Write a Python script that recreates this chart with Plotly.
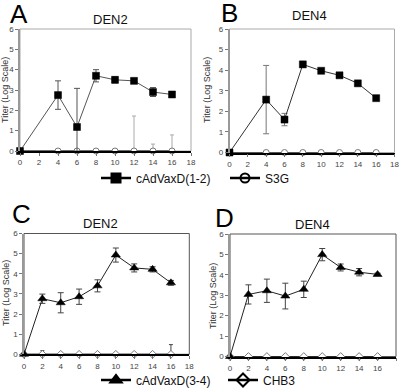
import plotly.graph_objects as go

days = [0, 4, 6, 8, 10, 12, 14, 16]
days_cd = [0, 2, 4, 6, 8, 10, 12, 14, 16]

# Panel A: DEN2, cAdVaxD(1-2) and S3G
a_vax = [0, 2.75, 1.18, 3.70, 3.50, 3.45, 2.90, 2.78]
a_vax_err = [0, 0.70, 1.90, 0.30, 0.15, 0.09, 0.22, 0.12]
a_vax_errminus = [0, 0.70, 1.18, 0.30, 0.15, 0.09, 0.22, 0.12]
a_ctl = [0, 0, 0, 0, 0, 0, 0, 0]
a_ctl_err = [0, 0, 0, 0, 0, 1.72, 0.34, 0.79]

# Panel B: DEN4, cAdVaxD(1-2) and S3G
b_vax = [0, 2.57, 1.60, 4.28, 3.97, 3.75, 3.36, 2.64]
b_vax_err = [0, 1.66, 0.30, 0.15, 0.07, 0.06, 0.09, 0.05]
b_ctl = [0, 0, 0, 0, 0, 0, 0, 0]

# Panel C: DEN2, cAdVaxD(3-4) and CHB3
c_vax = [0, 2.76, 2.56, 2.86, 3.40, 4.93, 4.29, 4.22, 3.55]
c_vax_err = [0, 0.23, 0.50, 0.38, 0.30, 0.35, 0.20, 0.13, 0.12]
c_ctl = [0, 0, 0, 0, 0, 0, 0, 0, 0]
c_ctl_err = [0, 0.18, 0, 0, 0, 0, 0, 0, 0.48]

# Panel D: DEN4, cAdVaxD(3-4) and CHB3
d_vax = [0, 3.04, 3.22, 2.96, 3.29, 4.99, 4.36, 4.13, 4.02]
d_vax_err = [0, 0.47, 0.57, 0.63, 0.40, 0.30, 0.17, 0.18, 0.06]
d_ctl = [0, 0, 0, 0, 0, 0, 0, 0, 0]

x_ticks = list(range(0, 19, 2))
y_ticks = list(range(0, 7))
panel_titles = ["DEN2", "DEN4", "DEN2", "DEN4"]
panel_letters = ["A", "B", "C", "D"]
y_title = "Titer (Log Scale)"
names = ["cAdVaxD(1-2)", "S3G", "cAdVaxD(3-4)", "CHB3"]

W, H = 400, 389
FONT = "Liberation Sans, Arial, sans-serif"

def px(v):
    return v / W

def py(v):
    return 1 - v / H

# plot areas in pixels: (x0, x1, ytop, ybottom)
areas = [(20, 191, 29, 151), (229.5, 394.5, 29, 152.5),
         (24, 189.3, 233.5, 354.3), (230, 396, 234, 356.5)]

fig = go.Figure()

def add_pair(i, xs, vax, vax_err, vax_errminus, ctl, ctl_err, vsym, csym, vsize, csize, linecol, errcol, ctlerrcol):
    ax = "" if i == 0 else str(i + 1)
    ctl_trace = dict(
        x=xs, y=ctl, mode="lines+markers", xaxis="x" + ax, yaxis="y" + ax,
        line=dict(color="#000", width=1.2),
        marker=dict(symbol=csym, size=csize, color="white", line=dict(color="#777", width=1)),
        showlegend=False, cliponaxis=False)
    if ctl_err is not None:
        ctl_trace["error_y"] = dict(type="data", array=ctl_err, arrayminus=[0] * len(xs),
                                    color=ctlerrcol, thickness=1, width=2)
    fig.add_trace(go.Scatter(**ctl_trace))
    fig.add_trace(go.Scatter(
        x=xs, y=vax, mode="lines+markers", xaxis="x" + ax, yaxis="y" + ax,
        line=dict(color=linecol, width=1),
        marker=dict(symbol=vsym, size=vsize, color="black", line=dict(color="black", width=0.5)),
        error_y=dict(type="data", array=vax_err, arrayminus=vax_errminus, color=errcol, thickness=1, width=3),
        showlegend=False, cliponaxis=False))

add_pair(0, days, a_vax, a_vax_err, a_vax_errminus, a_ctl, a_ctl_err, "square", "circle", 7, 6, "#555", "#555", "#aaa")
add_pair(1, days, b_vax, b_vax_err, b_vax_err, b_ctl, None, "square", "circle", 7, 6, "#333", "#777", "#aaa")
add_pair(2, days_cd, c_vax, c_vax_err, c_vax_err, c_ctl, c_ctl_err, "triangle-up", "diamond", 8, 6, "#222", "#444", "#444")
add_pair(3, days_cd, d_vax, d_vax_err, d_vax_err, d_ctl, None, "triangle-up", "diamond", 8, 6, "#222", "#444", "#444")

# legend entries
legend_specs = [
    (names[0], "square", "legend", 9, 96, 178),
    (names[1], "circle-open", "legend2", 9, 225, 178),
    (names[2], "triangle-up", "legend3", 10, 96, 380),
    (names[3], "diamond-open", "legend4", 10, 223, 380),
]
for name, sym, lg, ms, lx, ly in legend_specs:
    fig.add_trace(go.Scatter(
        x=[None], y=[None], mode="lines+markers", name=name, legend=lg,
        line=dict(color="black", width=2.5),
        marker=dict(symbol=sym, size=ms, color="black", line=dict(color="black", width=2)),
        xaxis="x", yaxis="y"))
    fig.update_layout({lg: dict(x=px(lx), y=py(ly), xanchor="left", yanchor="middle",
                                orientation="h", bgcolor="rgba(0,0,0,0)",
                                font=dict(family=FONT, size=12, color="#111"),
                                itemwidth=30, tracegroupgap=0)})

frame_cols = ["#aaa", "#aaa", "#555", "#555"]
for i, (x0, x1, yt, yb) in enumerate(areas):
    ax = "" if i == 0 else str(i + 1)
    fig.update_layout({
        "xaxis" + ax: dict(domain=[px(x0), px(x1)], anchor="y" + ax, range=[0, 18],
                           tickvals=x_ticks, ticks="outside", ticklen=3, tickcolor="#777",
                           showline=True, linecolor="black", linewidth=1.5,
                           showgrid=False, zeroline=False, automargin=False,
                           tickfont=dict(family=FONT, size=8, color="#444")),
        "yaxis" + ax: dict(domain=[py(yb), py(yt)], anchor="x" + ax, range=[0, 6],
                           tickvals=y_ticks, ticks="outside", ticklen=3, tickcolor="#777",
                           showline=True, linecolor="#999", linewidth=1.5,
                           showgrid=False, zeroline=False, automargin=False,
                           tickfont=dict(family=FONT, size=8, color="#444")),
    })
    fig.add_shape(type="rect", xref="x" + ax + " domain", yref="y" + ax + " domain",
                  x0=0, x1=1, y0=0, y1=1, line=dict(color=frame_cols[i], width=1), layer="below")

title_pos = [(110, 19), (309, 16), (100, 223), (312, 224)]
letter_pos = [(19, 14), (230, 13), (21, 214), (224, 218)]
ytitle_pos = [(5, 90), (207, 90), (6, 293), (213, 296)]
for i in range(4):
    tx, ty = title_pos[i]
    fig.add_annotation(x=px(tx), y=py(ty), xref="paper", yref="paper", text=panel_titles[i],
                       xanchor="center", yanchor="middle",
                       showarrow=False, font=dict(family=FONT, size=13, color="#111"))
    lx, ly = letter_pos[i]
    fig.add_annotation(x=px(lx), y=py(ly), xref="paper", yref="paper", text=panel_letters[i],
                       xanchor="center", yanchor="middle",
                       showarrow=False, font=dict(family=FONT, size=26, color="#000"))
    yx, yy = ytitle_pos[i]
    fig.add_annotation(x=px(yx), y=py(yy), xref="paper", yref="paper", text=y_title, textangle=-90,
                       xanchor="center", yanchor="middle",
                       showarrow=False, font=dict(family=FONT, size=9, color="#333"))

fig.update_layout(width=W, height=H, margin=dict(l=0, r=0, t=0, b=0, autoexpand=False),
                  paper_bgcolor="white", plot_bgcolor="white", showlegend=True)

fig.write_html("out.html", config={"displayModeBar": False},
               post_script="document.body.style.margin='0px';document.body.style.overflow='hidden';")
